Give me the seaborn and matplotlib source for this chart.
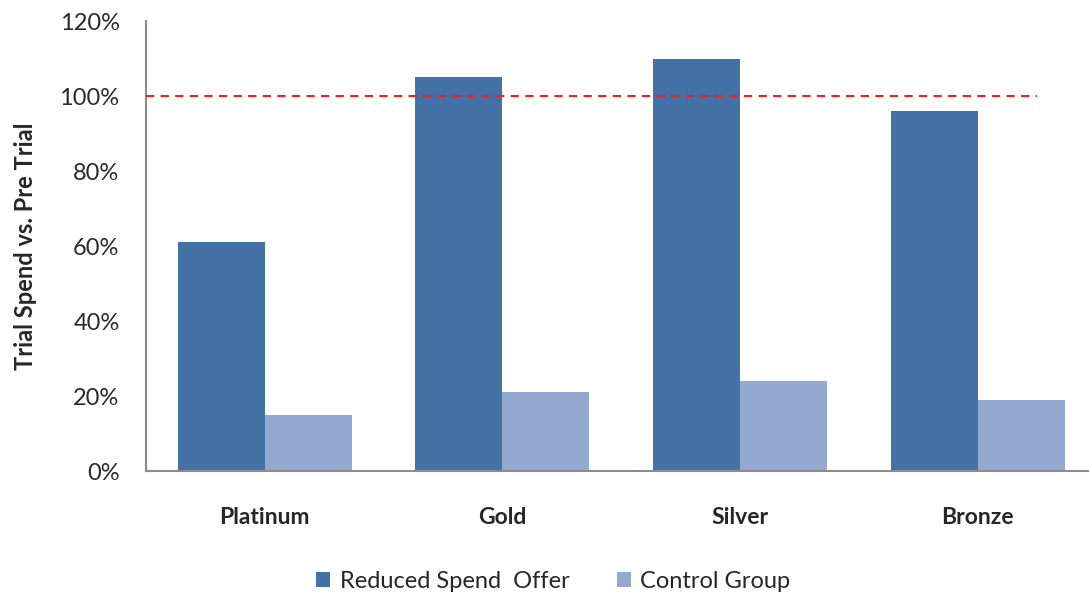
import matplotlib
matplotlib.use("Agg")
import matplotlib.pyplot as plt
import seaborn as sns
import pandas as pd
from matplotlib.ticker import FuncFormatter
from matplotlib.patches import Patch

tiers = ["Platinum", "Gold", "Silver", "Bronze"]
reduced_offer = [61, 105, 110, 96]
control_group = [15, 21, 24, 19]
series_names = ["Reduced Spend  Offer", "Control Group"]
y_ticks = [0, 20, 40, 60, 80, 100, 120]
baseline = 100

df = pd.DataFrame({
    "tier": tiers * 2,
    "value": reduced_offer + control_group,
    "series": [series_names[0]] * len(tiers) + [series_names[1]] * len(tiers),
})

sns.set_theme(style="white")
plt.rcParams["font.family"] = ["Lato", "DejaVu Sans"]

colors = ["#4472A6", "#93A9CF"]

fig = plt.figure(figsize=(10.89, 5.96), dpi=100)
ax = fig.add_axes([0.134, 0.2097, 0.873, 0.755])

sns.barplot(data=df, x="tier", y="value", hue="series", palette=colors,
            width=0.732, saturation=1, linewidth=0, ax=ax, legend=False)

ax.set_xlim(-0.5, 3.5)
ax.set_ylim(0, 120)
ax.set_yticks(y_ticks)
ax.yaxis.set_major_formatter(FuncFormatter(lambda v, p: f"{v:.0f}%"))
ax.tick_params(axis="y", labelsize=17, colors="#2a2a2a", length=0, pad=19)
ax.tick_params(axis="x", labelsize=16.5, length=0, pad=26)
for lbl in ax.get_xticklabels():
    lbl.set_fontweight("bold")

ax.set_xlabel("")
ax.set_ylabel("Trial Spend vs. Pre Trial", fontsize=17, fontweight="bold", labelpad=16)

for side in ["top", "right"]:
    ax.spines[side].set_visible(False)
for side in ["left", "bottom"]:
    ax.spines[side].set_color("#8c8c8c")
    ax.spines[side].set_linewidth(1.5)

ax.plot([-0.5, 3.25], [baseline, baseline], color="#ff1a1a", linestyle=(0, (4, 3)),
        linewidth=1.5, zorder=5, clip_on=False)

handles = [Patch(facecolor=c, edgecolor="none") for c in colors]
fig.legend(handles, series_names, loc="center", bbox_to_anchor=(0.508, 0.025),
           ncol=2, frameon=False, fontsize=17, handlelength=0.6, handleheight=0.6,
           handletextpad=0.4, columnspacing=2.0)

fig.savefig("out.png", dpi=100)
